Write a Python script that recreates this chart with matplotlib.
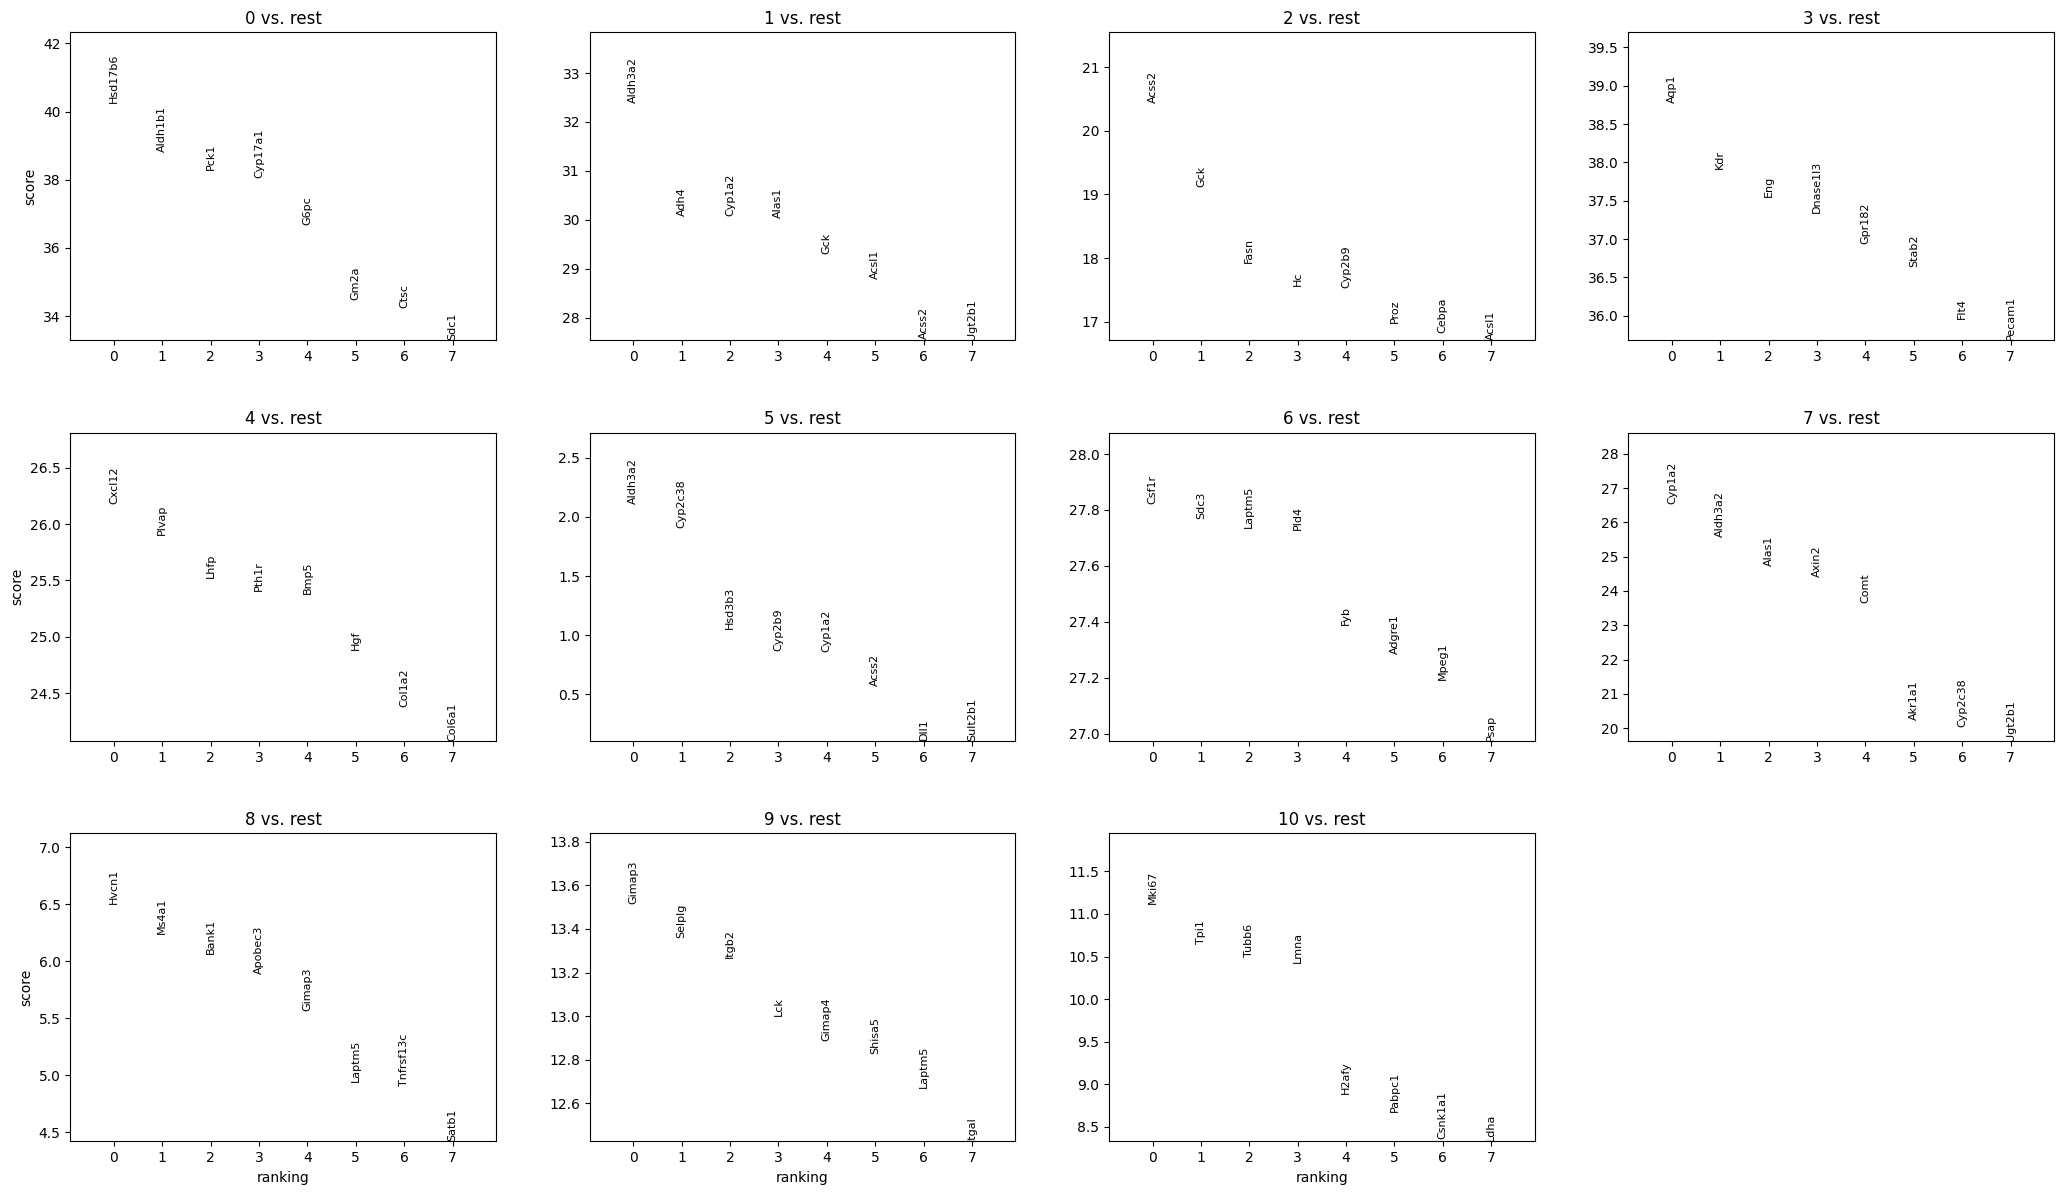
import numpy as np
import matplotlib
matplotlib.use("Agg")
import matplotlib.pyplot as plt


# groups shown in the grid (one panel per group)
groups = ["0", "1", "2", "3", "4", "5", "6", "7", "8", "9", "10"]

gene_names = [
    ["Hsd17b6", "Aldh1b1", "Pck1", "Cyp17a1", "G6pc", "Gm2a", "Ctsc", "Sdc1"],
    ["Aldh3a2", "Adh4", "Cyp1a2", "Alas1", "Gck", "Acsl1", "Acss2", "Ugt2b1"],
    ["Acss2", "Gck", "Fasn", "Hc", "Cyp2b9", "Proz", "Cebpa", "Acsl1"],
    ["Aqp1", "Kdr", "Eng", "Dnase1l3", "Gpr182", "Stab2", "Flt4", "Pecam1"],
    ["Cxcl12", "Plvap", "Lhfp", "Pth1r", "Bmp5", "Hgf", "Col1a2", "Col6a1"],
    ["Aldh3a2", "Cyp2c38", "Hsd3b3", "Cyp2b9", "Cyp1a2", "Acss2", "Dll1", "Sult2b1"],
    ["Csf1r", "Sdc3", "Laptm5", "Pld4", "Fyb", "Adgre1", "Mpeg1", "Psap"],
    ["Cyp1a2", "Aldh3a2", "Alas1", "Axin2", "Comt", "Akr1a1", "Cyp2c38", "Ugt2b1"],
    ["Hvcn1", "Ms4a1", "Bank1", "Apobec3", "Gimap3", "Laptm5", "Tnfrsf13c", "Satb1"],
    ["Gimap3", "Selplg", "Itgb2", "Lck", "Gimap4", "Shisa5", "Laptm5", "Itgal"],
    ["Mki67", "Tpi1", "Tubb6", "Lmna", "H2afy", "Pabpc1", "Csnk1a1", "Ldha"],
]

scores = [
    [40.24, 38.81, 38.29, 38.05, 36.68, 34.47, 34.25, 33.29],
    [32.38, 30.08, 30.08, 30.03, 29.29, 28.79, 27.57, 27.535],
    [20.43, 19.11, 17.93, 17.56, 17.53, 16.98, 16.83, 16.71],
    [38.77, 37.91, 37.55, 37.34, 36.93, 36.64, 35.96, 35.68],
    [26.18, 25.90, 25.52, 25.41, 25.38, 24.88, 24.38, 24.077],
    [2.11, 1.91, 1.05, 0.87, 0.856, 0.573, 0.113, 0.107],
    [27.822, 27.766, 27.737, 27.73, 27.387, 27.286, 27.192, 26.974],
    [26.54, 25.56, 24.72, 24.42, 23.64, 20.25, 20.02, 19.63],
    [6.50, 6.24, 6.065, 5.89, 5.565, 4.94, 4.90, 4.418],
    [13.513, 13.36, 13.265, 13.0, 12.884, 12.827, 12.67, 12.426],
    [11.112, 10.649, 10.496, 10.418, 8.888, 8.673, 8.355, 8.331],
]

n_cols = 4


def plot_rank_genes(ax, group, genes, vals):
    for ig, (g, s) in enumerate(zip(genes, vals)):
        ax.text(ig, s, g, rotation="vertical", va="bottom", ha="center",
                fontsize=8)
    ymin = min(vals)
    ymax = max(vals)
    ymax += 0.3 * (ymax - ymin)
    ax.set_ylim(ymin, ymax)
    ax.set_xlim(-0.9, len(genes) - 0.1)
    ax.set_xticks(range(len(genes)))
    ax.set_title(f"{group} vs. rest")


def main():
    fig = plt.figure(figsize=(20.64, 11.94), dpi=100)
    n_rows = int(np.ceil(len(groups) / n_cols))
    gs = fig.add_gridspec(n_rows, n_cols, left=0.0341, right=0.9952,
                          top=0.973, bottom=0.0441, wspace=0.22, hspace=0.30)
    for i, grp in enumerate(groups):
        r, c = divmod(i, n_cols)
        ax = fig.add_subplot(gs[r, c])
        plot_rank_genes(ax, grp, gene_names[i], scores[i])
        if c == 0:
            ax.set_ylabel("score")
        # xlabel only on the last row
        if r == n_rows - 1:
            ax.set_xlabel("ranking")
    fig.savefig("out.png", dpi=100)


if __name__ == "__main__":
    main()
